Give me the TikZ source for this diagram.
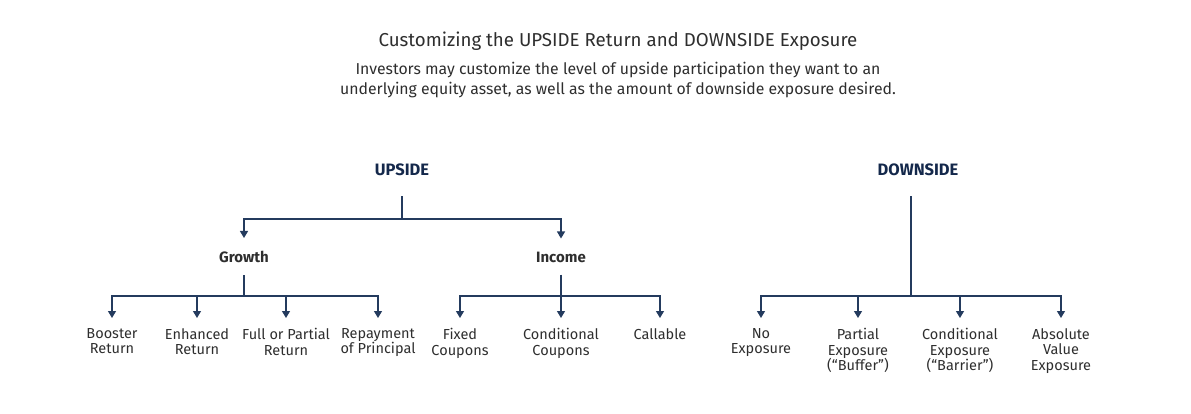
\documentclass[tikz,border=0pt]{standalone}
\usepackage{fontspec}
\setmainfont{Fira Sans}
\usetikzlibrary{arrows.meta}

\definecolor{navy}{HTML}{14284B}
\definecolor{wire}{HTML}{243B5E}
\definecolor{ink}{HTML}{2E2E2E}

\begin{document}
\begin{tikzpicture}[x=1pt, y=-1pt,
    line/.style={draw=wire, line width=1.2pt},
    arr/.style={line, -{Triangle[width=8pt,length=7pt]}},
    head/.style={font=\bfseries\fontsize{16.5}{18}\selectfont, text=navy, inner sep=0pt},
    branch/.style={font=\bfseries\fontsize{15}{18}\selectfont, text=ink, inner sep=0pt},
    leaf/.style={font=\fontsize{14.5}{15.5}\selectfont, text=ink, align=center, anchor=north, inner sep=0pt}]
    \useasboundingbox (0,0) rectangle (1191,413);

    % title and intro
    \node[text=ink, font=\fontsize{18.7}{20}\selectfont] (title) at (618,41) {Customizing the UPSIDE Return and DOWNSIDE Exposure};
    \node[text=ink, font=\fontsize{15.8}{20}\selectfont, align=center] (intro) at (618,80)
        {Investors may customize the level of upside participation they want to an\\
         underlying equity asset, as well as the amount of downside exposure desired.};

    % headings
    \node[head] (up) at (402,170) {UPSIDE};
    \node[head] (down) at (918,170) {DOWNSIDE};
    \node[branch] (growth) at (244,257) {Growth};
    \node[branch] (income) at (561,257) {Income};

    % leaves
    \node[leaf] (g1) at (112,328) {Booster\\Return};
    \node[leaf] (g2) at (197,328) {Enhanced\\Return};
    \node[leaf] (g3) at (286,328) {Full or Partial\\Return};
    \node[leaf] (g4) at (378,328) {Repayment\\of Principal};
    \node[leaf] (i1) at (460,328) {Fixed\\Coupons};
    \node[leaf] (i2) at (561,328) {Conditional\\Coupons};
    \node[leaf] (i3) at (660,328) {Callable};
    \node[leaf] (d1) at (761,328) {No\\Exposure};
    \node[leaf] (d2) at (858,328) {Partial\\Exposure\\(“Buffer”)};
    \node[leaf] (d3) at (960,328) {Conditional\\Exposure\\(“Barrier”)};
    \node[leaf] (d4) at (1061,328) {Absolute\\Value\\Exposure};

    \coordinate (upbar) at (402,219);
    \coordinate (gbar) at (244,296);
    \coordinate (ibar) at (561,296);
    \coordinate (dbar) at (911,296);

    % upside
    \draw[line] ([yshift=-20pt]up.south) -- (upbar);
    \draw[arr] (upbar) -| ([yshift=13pt]growth.north);
    \draw[arr] (upbar) -| ([yshift=13pt]income.north);

    \draw[line] ([yshift=-12pt]growth.south) -- (gbar);
    \foreach \n in {g1,g2,g3,g4}
        \draw[arr] (gbar) -| ([yshift=10pt]\n.north);

    \draw[arr] ([yshift=-12pt]income.south) -- ([yshift=10pt]i2.north);
    \foreach \n in {i1,i3}
        \draw[arr] (ibar) -| ([yshift=10pt]\n.north);

    % downside
    \draw[line] ([yshift=-20pt]down.south -| dbar) -- (dbar);
    \foreach \n in {d1,d2,d3,d4}
        \draw[arr] (dbar) -| ([yshift=10pt]\n.north);

\end{tikzpicture}
\end{document}
